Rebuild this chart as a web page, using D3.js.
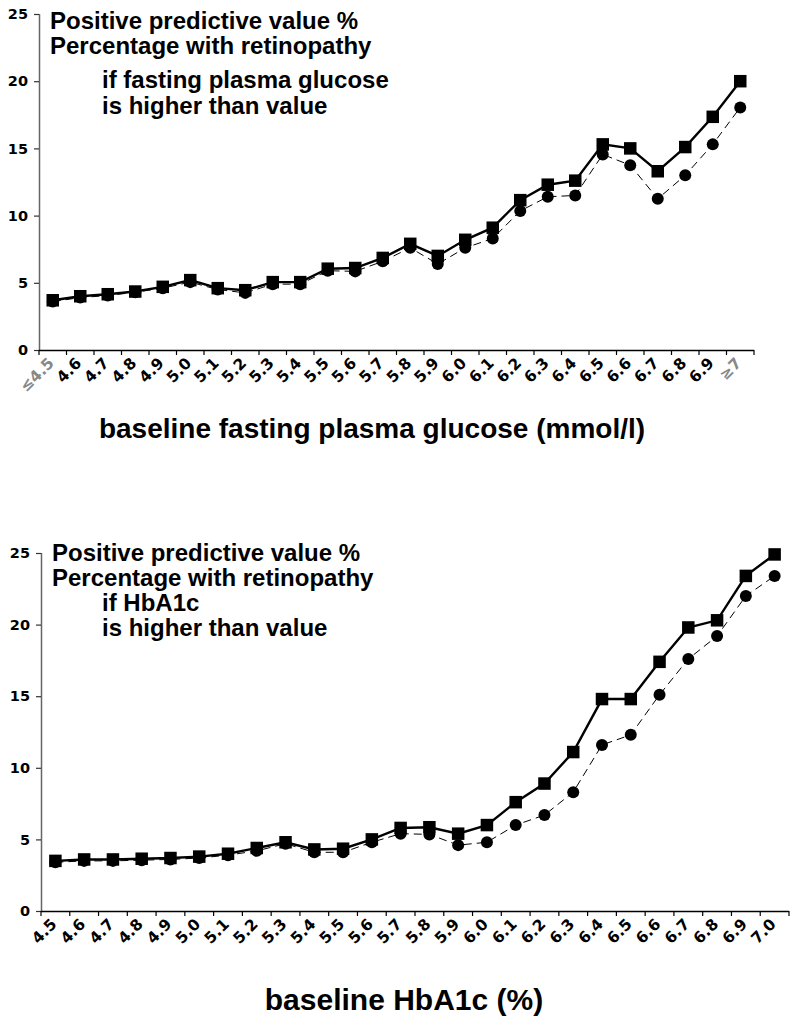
<!DOCTYPE html>
<html>
<head>
<meta charset="utf-8">
<script src="https://cdn.jsdelivr.net/npm/d3@7"></script>
<style>
  html, body { margin: 0; padding: 0; background: #fff; }
  svg { display: block; }
</style>
</head>
<body>
<svg id="chart" width="796" height="1027"></svg>
<script>
// ---------- DATA ----------
const fpgCategories = ["≤4.5","4.6","4.7","4.8","4.9","5.0","5.1","5.2","5.3","5.4","5.5","5.6","5.7","5.8","5.9","6.0","6.1","6.2","6.3","6.4","6.5","6.6","6.7","6.8","6.9","≥7"];
const fpgSquares = [3.7,4.0,4.15,4.35,4.7,5.2,4.6,4.45,5.05,5.05,6.05,6.1,6.85,7.9,7.0,8.2,9.1,11.15,12.3,12.6,15.3,15.0,13.3,15.1,17.35,20.0];
const fpgCircles = [3.6,3.9,4.05,4.3,4.6,5.05,4.5,4.25,4.9,4.9,5.9,5.85,6.6,7.6,6.4,7.6,8.3,10.35,11.4,11.5,14.55,13.75,11.25,13.0,15.3,18.05];

const hbaCategories = ["4.5","4.6","4.7","4.8","4.9","5.0","5.1","5.2","5.3","5.4","5.5","5.6","5.7","5.8","5.9","6.0","6.1","6.2","6.3","6.4","6.5","6.6","6.7","6.8","6.9","7.0"];
const hbaSquares = [3.5,3.6,3.6,3.65,3.7,3.8,4.0,4.4,4.8,4.3,4.35,5.0,5.8,5.85,5.4,6.0,7.6,8.9,11.1,14.8,14.8,17.4,19.8,20.3,23.4,24.9];
const hbaCircles = [3.4,3.5,3.5,3.55,3.6,3.7,3.9,4.2,4.7,4.1,4.1,4.8,5.4,5.35,4.6,4.8,6.0,6.7,8.3,11.6,12.3,15.1,17.6,19.2,22.0,23.4];

const yTicks = [0,5,10,15,20,25];
const grayLabels = ["≤4.5","≥7"];

const fpgNote = ["Positive predictive value %","Percentage with retinopathy","if fasting plasma glucose","is higher than value"];
const hbaNote = ["Positive predictive value %","Percentage with retinopathy","if HbA1c","is higher than value"];
const fpgTitle = "baseline fasting plasma glucose (mmol/l)";
const hbaTitle = "baseline HbA1c (%)";

// ---------- DRAW ----------
const svg = d3.select("#chart");

function drawChart(cfg) {
  const g = svg.append("g");
  const x = d3.scaleBand().domain(cfg.categories).range([cfg.x0, cfg.x1]).padding(0);
  const y = d3.scaleLinear().domain([0, 25]).range([cfg.y0, cfg.y1]);

  // Y axis
  const yAxis = g.append("g").attr("transform", `translate(${cfg.x0},0)`)
    .call(d3.axisLeft(y).tickValues(yTicks).tickSize(5).tickPadding(6).tickFormat(d3.format("d")));
  yAxis.select(".domain").attr("stroke", "#666").attr("stroke-width", 1.5).attr("d", `M0.5,${cfg.y0}V${cfg.y1}`);
  yAxis.selectAll(".tick line").attr("stroke", "#333").attr("stroke-width", 1.2);
  yAxis.selectAll(".tick text")
    .attr("font-family", "DejaVu Sans").attr("font-weight", "bold").attr("font-size", 14.5).attr("fill", "#000");

  // X axis: ticks at band boundaries
  const bounds = cfg.categories.map(c => x(c)).concat([cfg.x1]);
  const xg = g.append("g");
  xg.append("line").attr("x1", cfg.x0).attr("x2", cfg.x1).attr("y1", cfg.y0 + 0.5).attr("y2", cfg.y0 + 0.5)
    .attr("stroke", "#000").attr("stroke-width", 1.5);
  xg.selectAll("line.tk").data(bounds).join("line").attr("class", "tk")
    .attr("x1", d => d).attr("x2", d => d).attr("y1", cfg.y0).attr("y2", cfg.y0 + 5)
    .attr("stroke", "#000").attr("stroke-width", 1.2);
  xg.selectAll("text").data(cfg.categories).join("text")
    .attr("transform", d => `translate(${x(d) + x.bandwidth() / 2 - 6},${cfg.y0 + 6}) rotate(-45)`)
    .attr("text-anchor", "end")
    .attr("dy", "0.75em")
    .attr("font-family", "DejaVu Sans").attr("font-weight", "bold").attr("font-size", 15.5)
    .attr("fill", d => grayLabels.includes(d) ? "#888" : "#000")
    .text(d => d);

  const cx = (d, i) => x(cfg.categories[i]) + x.bandwidth() / 2;

  // Circles series (dashed)
  const lineC = d3.line().x((d, i) => cx(d, i)).y(d => y(d));
  g.append("path").datum(cfg.circles).attr("d", lineC)
    .attr("fill", "none").attr("stroke", "#000").attr("stroke-width", 1).attr("stroke-dasharray", "8,5");
  g.selectAll("circle.c").data(cfg.circles).join("circle").attr("class", "c")
    .attr("cx", (d, i) => cx(d, i)).attr("cy", d => y(d)).attr("r", 6).attr("fill", "#000");

  // Squares series (solid)
  g.append("path").datum(cfg.squares).attr("d", lineC)
    .attr("fill", "none").attr("stroke", "#000").attr("stroke-width", 2.4);
  const s = 12.5;
  g.selectAll("rect.s").data(cfg.squares).join("rect").attr("class", "s")
    .attr("x", (d, i) => cx(d, i) - s / 2).attr("y", d => y(d) - s / 2)
    .attr("width", s).attr("height", s).attr("fill", "#000");

  // Note text
  g.selectAll("text.note").data(cfg.note).join("text").attr("class", "note")
    .attr("x", (d, i) => i < 2 ? cfg.noteX : cfg.noteX2)
    .attr("y", (d, i) => cfg.noteY[i])
    .attr("font-family", "Liberation Sans, Arial").attr("font-weight", "bold").attr("font-size", 24)
    .attr("fill", "#000").text(d => d);

  // Axis title
  g.append("text").attr("x", cfg.titleX).attr("y", cfg.titleY).attr("text-anchor", "middle")
    .attr("font-family", "Liberation Sans, Arial").attr("font-weight", "bold").attr("font-size", cfg.titleSize)
    .attr("fill", "#000").text(cfg.title);
}

drawChart({
  categories: fpgCategories, squares: fpgSquares, circles: fpgCircles,
  x0: 39, x1: 754, y0: 350, y1: 14,
  note: fpgNote, noteX: 50, noteX2: 102, noteY: [29, 54, 88, 114],
  title: fpgTitle, titleX: 372, titleY: 438, titleSize: 28
});

drawChart({
  categories: hbaCategories, squares: hbaSquares, circles: hbaCircles,
  x0: 41, x1: 789, y0: 911, y1: 553,
  note: hbaNote, noteX: 52, noteX2: 102, noteY: [561, 586, 611, 636],
  title: hbaTitle, titleX: 404, titleY: 1010, titleSize: 30
});
</script>
</body>
</html>
